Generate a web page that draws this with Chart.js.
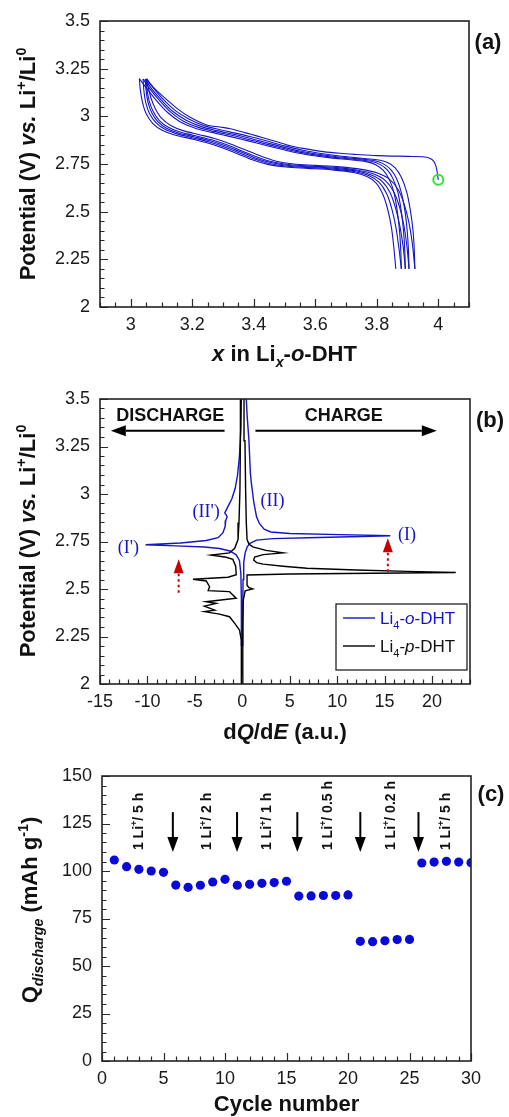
<!DOCTYPE html>
<html><head><meta charset="utf-8">
<script src="https://cdn.jsdelivr.net/npm/chart.js@4.4.0/dist/chart.umd.min.js"></script>
<style>
html,body{margin:0;padding:0;background:#fff;}
body{width:509px;height:1117px;position:relative;overflow:hidden;}
canvas{position:absolute;left:0;}
</style></head><body>
<canvas id="ca" width="509" height="375" style="top:0;width:509px;height:375px"></canvas>
<canvas id="cb" width="509" height="375" style="top:375px;width:509px;height:375px"></canvas>
<canvas id="cc" width="509" height="367" style="top:750px;width:509px;height:367px"></canvas>
<script>
// ---------------- Panel (a): potential vs x ----------------
const aXTicks = [3, 3.2, 3.4, 3.6, 3.8, 4];
const aYTicks = [2, 2.25, 2.5, 2.75, 3, 3.25, 3.5];
const aStartPoint = [[4.0, 2.667]];
const aCharge1 = [[4.000,2.667],[3.998,2.692],[3.993,2.736],[3.985,2.765],[3.972,2.780],[3.951,2.788],[3.900,2.790],[3.800,2.794],[3.735,2.800],[3.680,2.806],[3.626,2.815],[3.561,2.832],[3.518,2.846],[3.475,2.867],[3.430,2.888],[3.388,2.907],[3.355,2.922],[3.323,2.935],[3.290,2.944],[3.247,2.955],[3.193,2.995],[3.150,3.042],[3.106,3.103],[3.074,3.152],[3.052,3.196]];
const aDischarge1 = [[3.052,3.196],[3.057,3.150],[3.066,3.095],[3.080,3.040],[3.100,2.990],[3.130,2.952],[3.170,2.925],[3.220,2.905],[3.270,2.885],[3.320,2.858],[3.370,2.826],[3.420,2.793],[3.470,2.766],[3.530,2.750],[3.600,2.743],[3.680,2.735],[3.750,2.722],[3.800,2.704],[3.840,2.672],[3.870,2.615],[3.890,2.535],[3.905,2.440],[3.916,2.330],[3.924,2.200]];
const aCharge2 = [[3.924,2.200],[3.922,2.300],[3.918,2.400],[3.910,2.500],[3.898,2.600],[3.880,2.680],[3.860,2.730],[3.835,2.758],[3.800,2.772],[3.750,2.780],[3.680,2.792],[3.620,2.805],[3.560,2.822],[3.500,2.845],[3.440,2.872],[3.390,2.893],[3.340,2.912],[3.290,2.930],[3.240,2.950],[3.190,2.985],[3.145,3.030],[3.105,3.090],[3.075,3.145],[3.050,3.196]];
const aDischarge2 = [[3.050,3.196],[3.053,3.140],[3.060,3.080],[3.073,3.025],[3.093,2.978],[3.122,2.943],[3.160,2.918],[3.210,2.898],[3.260,2.878],[3.310,2.852],[3.360,2.820],[3.410,2.787],[3.460,2.762],[3.520,2.746],[3.590,2.739],[3.670,2.731],[3.740,2.717],[3.790,2.697],[3.828,2.663],[3.855,2.605],[3.874,2.525],[3.888,2.430],[3.898,2.320],[3.905,2.200]];
const aCharge3 = [[3.905,2.200],[3.903,2.300],[3.899,2.400],[3.892,2.500],[3.880,2.600],[3.864,2.675],[3.845,2.722],[3.820,2.752],[3.790,2.768],[3.740,2.777],[3.670,2.788],[3.610,2.801],[3.550,2.818],[3.490,2.841],[3.430,2.867],[3.380,2.888],[3.330,2.907],[3.280,2.925],[3.230,2.946],[3.180,2.980],[3.135,3.028],[3.100,3.085],[3.070,3.140],[3.047,3.196]];
const aDischarge3 = [[3.047,3.196],[3.050,3.135],[3.056,3.075],[3.068,3.020],[3.088,2.972],[3.116,2.938],[3.155,2.913],[3.205,2.893],[3.255,2.873],[3.305,2.847],[3.355,2.815],[3.405,2.782],[3.455,2.758],[3.515,2.742],[3.585,2.735],[3.665,2.727],[3.735,2.713],[3.782,2.692],[3.818,2.658],[3.843,2.600],[3.861,2.520],[3.875,2.425],[3.886,2.315],[3.893,2.200]];
const aCharge4 = [[3.893,2.200],[3.891,2.300],[3.887,2.400],[3.880,2.500],[3.869,2.600],[3.853,2.672],[3.835,2.718],[3.810,2.748],[3.780,2.764],[3.730,2.774],[3.660,2.785],[3.600,2.798],[3.540,2.815],[3.480,2.838],[3.420,2.863],[3.370,2.884],[3.320,2.903],[3.270,2.921],[3.220,2.942],[3.170,2.976],[3.128,3.025],[3.094,3.082],[3.064,3.140],[3.040,3.196]];
const aDischarge4 = [[3.040,3.196],[3.043,3.130],[3.049,3.070],[3.061,3.015],[3.082,2.967],[3.110,2.933],[3.150,2.908],[3.200,2.888],[3.250,2.868],[3.300,2.842],[3.350,2.810],[3.400,2.777],[3.450,2.753],[3.510,2.738],[3.580,2.731],[3.660,2.723],[3.730,2.709],[3.775,2.688],[3.808,2.654],[3.832,2.595],[3.849,2.515],[3.862,2.420],[3.872,2.310],[3.880,2.200]];
const aCharge5 = [[3.880,2.200],[3.878,2.300],[3.874,2.400],[3.867,2.500],[3.856,2.600],[3.841,2.668],[3.822,2.715],[3.798,2.745],[3.768,2.761],[3.720,2.771],[3.650,2.782],[3.590,2.795],[3.530,2.812],[3.470,2.835],[3.410,2.860],[3.360,2.880],[3.310,2.899],[3.260,2.917],[3.210,2.938],[3.160,2.972],[3.120,3.020],[3.085,3.080],[3.055,3.140],[3.028,3.198]];
const aDischarge5 = [[3.028,3.198],[3.031,3.140],[3.038,3.075],[3.050,3.015],[3.072,2.962],[3.102,2.927],[3.143,2.902],[3.195,2.883],[3.245,2.863],[3.295,2.837],[3.345,2.805],[3.395,2.772],[3.445,2.748],[3.505,2.734],[3.575,2.727],[3.655,2.719],[3.725,2.705],[3.768,2.684],[3.798,2.650],[3.820,2.590],[3.836,2.510],[3.848,2.415],[3.856,2.305],[3.862,2.200]];

// ---------------- Panel (b): dQ/dE ----------------
const bXTicks = [-15, -10, -5, 0, 5, 10, 15, 20];
const bYTicks = [2, 2.25, 2.5, 2.75, 3, 3.25, 3.5];
const oDhtCharge = [[0.05,2.20],[0.05,2.40],[0.08,2.55],[0.15,2.64],[0.30,2.69],[0.50,2.72],[0.80,2.740],[1.50,2.757],[3.20,2.765],[8.0,2.771],[12.5,2.776],[15.6,2.780],[10.3,2.786],[5.0,2.792],[3.0,2.800],[2.3,2.815],[1.8,2.845],[1.5,2.880],[1.35,2.920],[1.20,2.960],[1.10,3.00],[0.95,3.06],[0.85,3.11],[0.70,3.28],[0.50,3.42],[0.42,3.50]];
const oDhtDischarge = [[-0.10,3.50],[-0.15,3.35],[-0.30,3.20],[-0.50,3.10],[-0.75,3.03],[-1.10,2.975],[-1.45,2.940],[-1.70,2.915],[-1.85,2.900],[-1.70,2.890],[-1.60,2.880],[-1.75,2.860],[-1.80,2.830],[-2.05,2.795],[-2.55,2.770],[-3.80,2.755],[-6.50,2.742],[-10.2,2.733],[-7.00,2.727],[-4.00,2.721],[-2.40,2.713],[-1.30,2.700],[-0.65,2.680],[-0.30,2.650],[-0.15,2.580],[-0.10,2.450],[-0.10,2.200]];
const pDhtCharge = [[0.05,2.00],[0.05,2.30],[0.10,2.44],[0.30,2.490],[1.10,2.500],[0.70,2.507],[0.50,2.520],[0.50,2.574],[5.0,2.579],[22.5,2.587],[17.4,2.593],[12.0,2.600],[6.8,2.609],[4.3,2.620],[2.2,2.631],[1.5,2.639],[1.2,2.653],[1.3,2.668],[2.2,2.681],[4.3,2.690],[2.5,2.703],[1.1,2.722],[0.7,2.737],[0.5,2.760],[0.42,2.850],[0.35,3.020],[0.28,3.280],[0.18,3.500]];
const pDhtDischarge = [[-0.15,3.50],[-0.20,3.28],[-0.25,3.02],[-0.35,2.85],[-0.45,2.76],[-0.80,2.714],[-1.35,2.690],[-3.30,2.679],[-1.70,2.667],[-1.00,2.656],[-0.70,2.620],[-0.64,2.575],[-1.50,2.562],[-5.20,2.551],[-3.80,2.542],[-3.45,2.512],[-3.60,2.491],[-1.35,2.486],[-0.64,2.451],[-3.80,2.433],[-2.75,2.424],[-4.00,2.410],[-2.90,2.389],[-4.00,2.381],[-2.40,2.368],[-1.35,2.354],[-0.80,2.319],[-0.30,2.284],[-0.10,2.231],[-0.10,2.00]];
const bPeakLabels = ["(I)", "(II)", "(II')", "(I')"];
const bPeakX = [17.35, 3.17, -3.81, -12.0];
const bPeakY = [2.784, 2.96, 2.904, 2.712];
const bRedArrowX = [15.34, -6.71];
const bRedArrowFrom = [2.591, 2.48];
const bRedArrowTo = [2.767, 2.656];

// ---------------- Panel (c): rate capability ----------------
const cycleNumber = [1,2,3,4,5,6,7,8,9,10,11,12,13,14,15,16,17,18,19,20,21,22,23,24,25,26,27,28,29,30];
const qDischarge = [105.8,102.3,100.9,100.0,99.3,92.6,91.4,92.5,94.2,95.6,92.5,93.0,93.5,93.9,94.6,86.8,86.9,87.1,87.1,87.4,63.0,62.8,63.3,63.9,64.0,104.2,104.7,105.1,104.7,104.4];
const cXTicks = [0, 5, 10, 15, 20, 25, 30];
const cYTicks = [0, 25, 50, 75, 100, 125, 150];
const rateLabels = ['5 h', '2 h', '1 h', '0.5 h', '0.2 h', '5 h'];
const rateLabelX = [2.93, 8.49, 13.37, 18.31, 23.41, 27.88];
const rateArrowX = [5.76, 10.98, 15.88, 21.0, 25.73];

// ---------------- helpers ----------------
const FONT = '"Liberation Sans", Arial, Helvetica, sans-serif';
const SERIF = '"Liberation Serif", "Times New Roman", serif';
const BLUE = '#1414c8';
const W = 509;
const pts = arr => arr.map(p => ({x: p[0], y: p[1]}));

function segFont(s, size){
  const sz = (s.sub || s.sup) ? size * 0.65 : size;
  return (s.i ? 'italic ' : '') + (s.n ? '' : 'bold ') + sz.toFixed(1) + 'px ' + (s.serif ? SERIF : FONT);
}
function drawRich(ctx, segs, x, y, size, color, align, rot){
  ctx.save(); ctx.translate(x, y); if (rot) ctx.rotate(rot);
  ctx.textAlign = 'left'; ctx.textBaseline = 'alphabetic'; ctx.fillStyle = color;
  let w = 0; for (const s of segs){ ctx.font = segFont(s, size); w += ctx.measureText(s.t).width; }
  let cx = align === 'center' ? -w/2 : (align === 'right' ? -w : 0);
  for (const s of segs){
    ctx.font = segFont(s, size);
    const dy = s.sub ? size*0.28 : (s.sup ? -size*0.42 : 0);
    ctx.fillText(s.t, cx, dy); cx += ctx.measureText(s.t).width;
  }
  ctx.restore();
}
function arrow(ctx, x0, y0, x1, y1, hl, hw, color, lw, dash){
  const a = Math.atan2(y1 - y0, x1 - x0);
  const bx = x1 - hl*Math.cos(a), by = y1 - hl*Math.sin(a);
  ctx.save(); ctx.strokeStyle = color; ctx.fillStyle = color; ctx.lineWidth = lw;
  if (dash) ctx.setLineDash(dash);
  ctx.beginPath(); ctx.moveTo(x0, y0); ctx.lineTo(bx, by); ctx.stroke();
  ctx.setLineDash([]);
  ctx.beginPath(); ctx.moveTo(x1, y1);
  ctx.lineTo(bx + hw/2*Math.sin(a), by - hw/2*Math.cos(a));
  ctx.lineTo(bx - hw/2*Math.sin(a), by + hw/2*Math.cos(a));
  ctx.closePath(); ctx.fill();
  ctx.restore();
}
const fmt = v => String(Math.round(v*100)/100);

function axis(min, max, tickArr, isX, area, canvasH){
  return {
    type: 'linear', min, max,
    grid: {display: false, drawTicks: false}, border: {display: false},
    ticks: {autoSkip: false, maxRotation: 0, minRotation: 0, padding: isX ? 7 : 10, color: '#1a1a1a',
      font: {family: FONT, size: 18}, callback: v => fmt(v)},
    afterBuildTicks: s => { s.ticks = tickArr.map(v => ({value: v})); },
    afterFit: s => {
      if (isX) s.height = canvasH - area.bottom; else s.width = area.left;
      s.paddingLeft = 0; s.paddingRight = 0; s.paddingTop = 0; s.paddingBottom = 0;
    }
  };
}

function decor(cfg){
  return {
    id: 'decor',
    afterDatasetsDraw(chart){
      const ctx = chart.ctx, a = chart.chartArea, xs = chart.scales.x, ys = chart.scales.y;
      if (cfg.extra) cfg.extra(chart, ctx, xs, ys, a);
      ctx.save();
      ctx.strokeStyle = '#2a2a2a'; ctx.lineWidth = 1.2;
      ctx.beginPath();
      const nx = Math.round((xs.max - xs.min)/cfg.xMinor);
      for (let i = 0; i <= nx; i++){
        const v = xs.min + i*cfg.xMinor;
        const major = cfg.xMajor.some(m => Math.abs(m - v) < 1e-6);
        const px = Math.round(xs.getPixelForValue(v)) + 0.5;
        ctx.moveTo(px, a.bottom); ctx.lineTo(px, a.bottom - (major ? 8 : 4.5));
      }
      const ny = Math.round((ys.max - ys.min)/cfg.yMinor);
      for (let i = 0; i <= ny; i++){
        const v = ys.min + i*cfg.yMinor;
        const major = cfg.yMajor.some(m => Math.abs(m - v) < 1e-6);
        const py = Math.round(ys.getPixelForValue(v)) + 0.5;
        ctx.moveTo(a.left, py); ctx.lineTo(a.left + (major ? 8 : 4.5), py);
      }
      ctx.stroke();
      ctx.lineWidth = 1.6; ctx.strokeStyle = '#222';
      ctx.strokeRect(a.left, a.top, a.right - a.left, a.bottom - a.top);
      ctx.restore();
      drawRich(ctx, cfg.xTitle, (a.left + a.right)/2, a.bottom + cfg.xTitleDy, 22, '#111', 'center');
      drawRich(ctx, cfg.yTitle, cfg.yTitleX, cfg.yTitleY, 22, '#111', 'center', -Math.PI/2);
      ctx.save(); ctx.fillStyle = '#111'; ctx.font = 'bold 22px ' + FONT;
      ctx.textAlign = 'center'; ctx.textBaseline = 'middle';
      ctx.fillText(cfg.label, cfg.labelX, cfg.labelY); ctx.restore();
    }
  };
}

const potTitle = [{t:'Potential (V) '},{t:'vs.', i:true},{t:' Li'},{t:'+', sup:true},{t:'/Li'},{t:'0', sup:true}];

function baseOptions(area, canvasH, xr, yr){
  return {
    responsive: false, animation: false, devicePixelRatio: 1,
    layout: {padding: {top: area.top, right: W - area.right, left: 0, bottom: 0}},
    plugins: {legend: {display: false}, tooltip: {enabled: false}},
    scales: {
      x: axis(xr[0], xr[1], xr[2], true, area, canvasH),
      y: axis(yr[0], yr[1], yr[2], false, area, canvasH)
    }
  };
}
function lineDs(arr, color, w, tension){
  return {data: pts(arr), showLine: true, borderColor: color, borderWidth: w, pointRadius: 0, tension: tension, fill: false};
}

// ---------- Chart (a) ----------
const areaA = {left: 100, top: 21, right: 469, bottom: 307};
new Chart(document.getElementById('ca'), {
  type: 'scatter',
  data: {datasets: [
    {data: pts(aStartPoint), pointRadius: 5, pointBorderWidth: 2, pointBorderColor: '#2ee82e', pointBackgroundColor: 'rgba(0,0,0,0)', showLine: false},
    lineDs(aCharge1, BLUE, 1.1, 0.3), lineDs(aDischarge1, BLUE, 1.1, 0.3),
    lineDs(aCharge2, BLUE, 1.1, 0.3), lineDs(aDischarge2, BLUE, 1.1, 0.3),
    lineDs(aCharge3, BLUE, 1.1, 0.3), lineDs(aDischarge3, BLUE, 1.1, 0.3),
    lineDs(aCharge4, BLUE, 1.1, 0.3), lineDs(aDischarge4, BLUE, 1.1, 0.3),
    lineDs(aCharge5, BLUE, 1.1, 0.3), lineDs(aDischarge5, BLUE, 1.1, 0.3)
  ]},
  options: baseOptions(areaA, 375, [2.9, 4.1, aXTicks], [2, 3.5, aYTicks]),
  plugins: [decor({
    xMinor: 0.05, xMajor: aXTicks, yMinor: 0.05, yMajor: aYTicks,
    xTitle: [{t:'x', i:true},{t:' in Li'},{t:'x', i:true, sub:true},{t:'-'},{t:'o', i:true},{t:'-DHT'}],
    xTitleDy: 54, yTitle: potTitle, yTitleX: 35, yTitleY: 164,
    label: '(a)', labelX: 488, labelY: 43
  })]
});

// ---------- Chart (b) ----------
const areaB = {left: 100, top: 24, right: 470, bottom: 309};
new Chart(document.getElementById('cb'), {
  type: 'scatter',
  data: {datasets: [
    lineDs(pDhtCharge, '#000', 1.4, 0), lineDs(pDhtDischarge, '#000', 1.4, 0),
    lineDs(oDhtCharge, BLUE, 1.4, 0), lineDs(oDhtDischarge, BLUE, 1.4, 0)
  ]},
  options: baseOptions(areaB, 375, [-15, 24, bXTicks], [2, 3.5, bYTicks]),
  plugins: [decor({
    xMinor: 1, xMajor: bXTicks, yMinor: 0.05, yMajor: bYTicks,
    xTitle: [{t:'d'},{t:'Q', i:true},{t:'/d'},{t:'E', i:true},{t:' (a.u.)'}],
    xTitleDy: 55, yTitle: potTitle, yTitleX: 35, yTitleY: 166,
    label: '(b)', labelX: 490, labelY: 46,
    extra: (chart, ctx, xs, ys, a) => {
      const X = v => xs.getPixelForValue(v), Y = v => ys.getPixelForValue(v);
      // direction arrows
      arrow(ctx, X(-1.87), Y(3.333), X(-13.86), Y(3.333), 15, 11, '#000', 2);
      arrow(ctx, X(1.38), Y(3.333), X(20.5), Y(3.333), 15, 11, '#000', 2);
      ctx.save(); ctx.fillStyle = '#111'; ctx.font = 'bold 18px ' + FONT;
      ctx.textAlign = 'center'; ctx.textBaseline = 'middle';
      ctx.fillText('DISCHARGE', X(-7.6), Y(3.41));
      ctx.fillText('CHARGE', X(10.7), Y(3.41));
      // peak labels
      ctx.fillStyle = BLUE; ctx.font = '18px ' + SERIF;
      for (let i = 0; i < bPeakLabels.length; i++) ctx.fillText(bPeakLabels[i], X(bPeakX[i]), Y(bPeakY[i]));
      ctx.restore();
      // red dotted arrows
      for (let i = 0; i < bRedArrowX.length; i++)
        arrow(ctx, X(bRedArrowX[i]), Y(bRedArrowFrom[i]), X(bRedArrowX[i]), Y(bRedArrowTo[i]), 14, 10, '#c40000', 2, [2.5, 3]);
      // legend
      const L = a.right - 134, T = a.bottom - 80, R = a.right - 3, B = a.bottom - 14;
      ctx.save(); ctx.fillStyle = '#fff'; ctx.fillRect(L, T, R - L, B - T);
      ctx.strokeStyle = '#222'; ctx.lineWidth = 1.3; ctx.strokeRect(L, T, R - L, B - T);
      ctx.lineWidth = 1.4;
      ctx.strokeStyle = BLUE; ctx.beginPath(); ctx.moveTo(L + 7, T + 14); ctx.lineTo(L + 39, T + 14); ctx.stroke();
      ctx.strokeStyle = '#000'; ctx.beginPath(); ctx.moveTo(L + 7, T + 42); ctx.lineTo(L + 39, T + 42); ctx.stroke();
      ctx.restore();
      drawRich(ctx, [{t:'Li', n:true},{t:'4', n:true, sub:true},{t:'-', n:true},{t:'o', n:true, i:true},{t:'-DHT', n:true}], L + 44, T + 20, 17, BLUE, 'left');
      drawRich(ctx, [{t:'Li', n:true},{t:'4', n:true, sub:true},{t:'-', n:true},{t:'p', n:true, i:true},{t:'-DHT', n:true}], L + 44, T + 48, 17, '#111', 'left');
    }
  })]
});

// ---------- Chart (c) ----------
const areaC = {left: 102, top: 26, right: 471, bottom: 311};
new Chart(document.getElementById('cc'), {
  type: 'scatter',
  data: {datasets: [{
    data: cycleNumber.map((c, i) => ({x: c, y: qDischarge[i]})),
    pointRadius: 4.6, pointBackgroundColor: '#0a0ad8', pointBorderColor: '#0a0ad8', pointBorderWidth: 0
  }]},
  options: baseOptions(areaC, 367, [0, 30, cXTicks], [0, 150, cYTicks]),
  plugins: [decor({
    xMinor: 1, xMajor: cXTicks, yMinor: 5, yMajor: cYTicks,
    xTitle: [{t:'Cycle number'}],
    xTitleDy: 50,
    yTitle: [{t:'Q'},{t:'discharge', i:true, sub:true},{t:' (mAh g'},{t:'-1', sup:true},{t:')'}],
    yTitleX: 37, yTitleY: 160,
    label: '(c)', labelX: 491, labelY: 45,
    extra: (chart, ctx, xs, ys, a) => {
      const X = v => xs.getPixelForValue(v), Y = v => ys.getPixelForValue(v);
      for (const xv of rateArrowX) arrow(ctx, X(xv), Y(131), X(xv), Y(110), 15, 11, '#000', 2);
      for (let i = 0; i < rateLabels.length; i++)
        drawRich(ctx, [{t:'1 Li'},{t:'+', sup:true},{t:'/ ' + rateLabels[i]}], X(rateLabelX[i]) + 5, Y(111), 14, '#111', 'left', -Math.PI/2);
    }
  })]
});
</script>
</body></html>
